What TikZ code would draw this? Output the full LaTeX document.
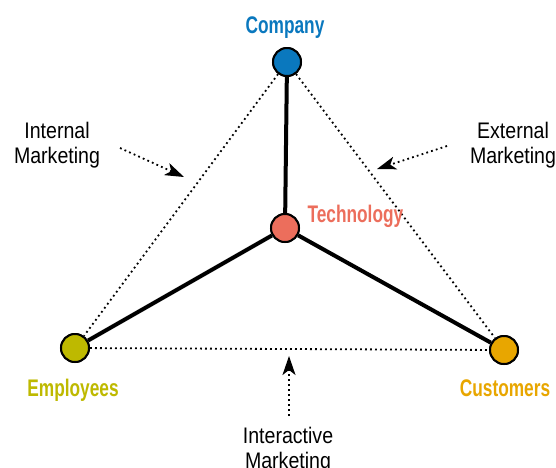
\documentclass[tikz,border=0pt]{standalone}
\usepackage{fontspec}
\setmainfont[FakeStretch=0.87]{Liberation Sans}
\newfontfamily\labelfont[FakeStretch=0.72]{Liberation Sans}
\usetikzlibrary{arrows.meta}
\definecolor{cCompany}{RGB}{10,120,190}
\definecolor{cTech}{RGB}{236,110,92}
\definecolor{cEmp}{RGB}{190,185,0}
\definecolor{cCust}{RGB}{232,166,0}
\tikzset{
  hub/.style={circle, draw=black, line width=2pt, minimum size=28pt, inner sep=0pt},
  spoke/.style={line width=4pt, black},
  channel/.style={line width=1.8pt, dash pattern=on 1.8pt off 3.2pt},
  pointer/.style={line width=1.8pt, dash pattern=on 1.8pt off 3.2pt,
    -{Stealth[length=19pt,width=13pt,inset=5pt]}},
  title/.style={font=\labelfont\bfseries\fontsize{24}{28}\selectfont, anchor=base},
  note/.style={font=\fontsize{22.5}{25}\selectfont, align=center, anchor=base}
}
\begin{document}
\begin{tikzpicture}[x=1pt, y=-1pt]
\useasboundingbox (0,0) rectangle (556,467);

% hubs
\node[hub, fill=cCompany] (company) at (287,62) {};
\node[hub, fill=cTech] (tech) at (285,228) {};
\node[hub, fill=cEmp] (emp) at (75,348) {};
\node[hub, fill=cCust] (cust) at (504,350) {};

% marketing channels (dotted triangle)
\draw[channel] (company) -- (emp);
\draw[channel] (company) -- (cust);
\draw[channel] (emp) -- (cust);

% technology spokes
\draw[spoke] (company) -- (tech);
\draw[spoke] (tech) -- (emp);
\draw[spoke] (tech) -- (cust);

% redraw hubs on top of the lines
\node[hub, fill=cCompany] at (company) {};
\node[hub, fill=cTech] at (tech) {};
\node[hub, fill=cEmp] at (emp) {};
\node[hub, fill=cCust] at (cust) {};

% hub titles
\node[title, text=cCompany] (tCompany) at (285,33) {Company};
\node[title, text=cTech, anchor=base west] (tTech) at (304,222) {Technology};
\node[title, text=cEmp] (tEmp) at (73,396) {Employees};
\node[title, text=cCust] (tCust) at (505,396) {Customers};

% channel notes (anchored at the baseline of the last line)
\node[note] (internal) at (57,163) {Internal\\Marketing};
\node[note] (external) at (513,163) {External\\Marketing};
\node[note] (interactive) at (288,468) {Interactive\\Marketing};

% pointers to the channels
\coordinate (inA) at (120,148);
\coordinate (inB) at (184,177);
\coordinate (exA) at (447,146);
\coordinate (exB) at (377,169);
\coordinate (itA) at (289,416);
\coordinate (itB) at (289,356);
\draw[pointer] (inA) -- (inB);
\draw[pointer] (exA) -- (exB);
\draw[pointer] (itA) -- (itB);
\end{tikzpicture}
\end{document}
